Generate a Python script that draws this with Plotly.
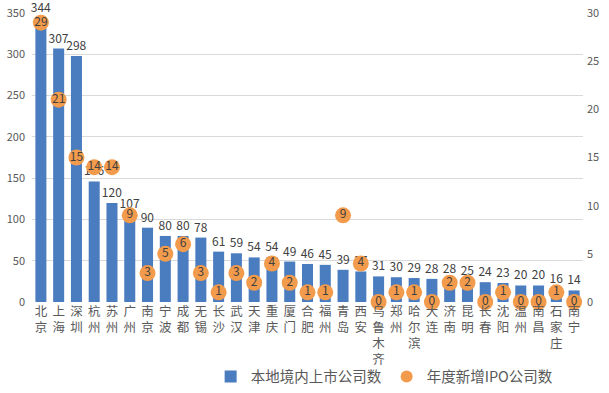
import plotly.graph_objects as go

cities = ["北京", "上海", "深圳", "杭州", "苏州", "广州", "南京", "宁波", "成都", "无锡",
          "长沙", "武汉", "天津", "重庆", "厦门", "合肥", "福州", "青岛", "西安", "乌鲁木齐",
          "郑州", "哈尔滨", "大连", "济南", "昆明", "长春", "沈阳", "温州", "南昌", "石家庄", "南宁"]
listed = [344, 307, 298, 146, 120, 107, 90, 80, 80, 78,
          61, 59, 54, 54, 49, 46, 45, 39, 37, 31,
          30, 29, 28, 28, 25, 24, 23, 20, 20, 16, 14]
ipo_new = [29, 21, 15, 14, 14, 9, 3, 5, 6, 3,
           1, 3, 2, 4, 2, 1, 1, 9, 4, 0,
           1, 1, 0, 2, 2, 0, 1, 0, 0, 1, 0]

left_ticks = [0, 50, 100, 150, 200, 250, 300, 350]
right_ticks = [0, 5, 10, 15, 20, 25, 30]

FONT = "Noto Sans CJK SC"
GRAY = "#595959"
BLUE = "#4A7CC0"
ORANGE = "#F39B4C"

vertical_labels = ["<br>".join(list(c)) for c in cities]

fig = go.Figure()
fig.add_trace(go.Bar(
    x=cities, y=listed, name="本地境内上市公司数",
    marker=dict(color=BLUE, line=dict(width=0)),
    text=[str(v) for v in listed], textposition="outside",
    textfont=dict(family=FONT, size=12, color="#404040"),
    constraintext="none", cliponaxis=False,
))
fig.add_trace(go.Scatter(
    x=cities, y=ipo_new, name="年度新增IPO公司数", yaxis="y2",
    mode="markers+text",
    marker=dict(color=ORANGE, size=16, line=dict(width=0)),
    text=[str(v) for v in ipo_new], textposition="middle center",
    textfont=dict(family=FONT, size=12, color="#404040"),
    cliponaxis=False,
))

fig.update_layout(
    template="none",
    width=609, height=393,
    margin=dict(l=32, r=26, t=13, b=91, autoexpand=False),
    paper_bgcolor="white", plot_bgcolor="white",
    font=dict(family=FONT, color=GRAY, size=12),
    bargap=0.38,
    showlegend=True,
    legend=dict(orientation="h", x=0.64, y=-0.258, xanchor="center", yanchor="middle",
                font=dict(family=FONT, size=14.5, color=GRAY), itemwidth=30,
                bgcolor="rgba(0,0,0,0)", tracegroupgap=0, itemsizing="constant"),
    xaxis=dict(range=[-0.5, 30.5], tickmode="array", tickvals=cities, ticktext=vertical_labels,
               tickangle=0, tickfont=dict(family=FONT, size=12.5, color=GRAY),
               showgrid=False, showline=False, ticks="", ticklen=0, automargin=False),
    yaxis=dict(range=[0, 350], tickvals=left_ticks, showgrid=True, gridcolor="#D9D9D9",
               gridwidth=1, zeroline=False, showline=False, automargin=False,
               ticklabelstandoff=6,
               tickfont=dict(family=FONT, size=11, color=GRAY), ticks=""),
    yaxis2=dict(range=[0, 30], tickvals=right_ticks, overlaying="y", side="right",
                showgrid=False, zeroline=False, showline=False, automargin=False,
                ticklabelstandoff=3,
                tickfont=dict(family=FONT, size=11, color=GRAY), ticks=""),
)

fig.write_html("out.html", config={"displayModeBar": False},
               post_script="document.body.style.margin='0';document.body.style.overflow='hidden';")
